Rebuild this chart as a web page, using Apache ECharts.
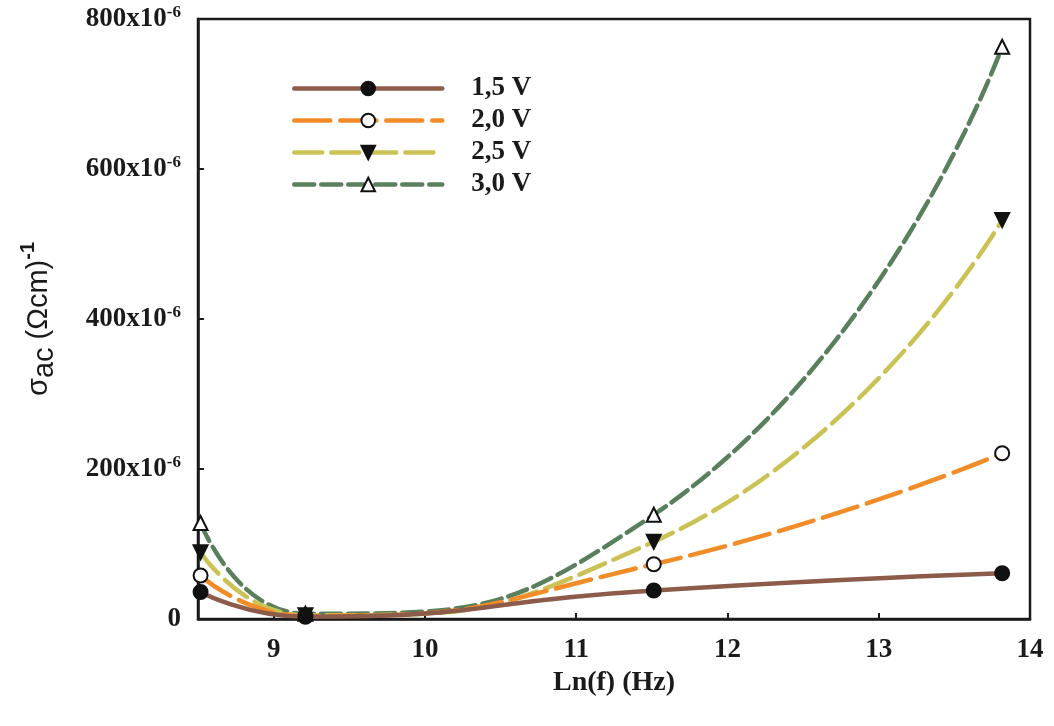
<!DOCTYPE html>
<html>
<head>
<meta charset="utf-8">
<script src="https://cdn.jsdelivr.net/npm/echarts@6/dist/echarts.min.js"></script>
<style>
html,body{margin:0;padding:0;background:#fff;}
#chart{width:1054px;height:726px;}
</style>
</head>
<body>
<div id="chart"></div>
<script>
// ln(f) values of the measured frequencies
const lnF = [8.517, 9.210, 11.513, 13.816];
// sigma_ac values in units of 1e-6 (Ωcm)^-1
const v15 = [36, 3, 38, 61];
const v20 = [58, 4, 73, 221];
const v25 = [89, 5, 103, 532];
const v30 = [128, 7, 139, 763];
const seriesNames = ['1,5 V', '2,0 V', '2,5 V', '3,0 V'];
const xTicks = [9, 10, 11, 12, 13, 14];
const yTicks = [0, 200, 400, 600, 800];

const serif = 'Liberation Serif';
const sans = 'Liberation Sans';
const ink = '#1a1a1a';

function pts(vals) { return lnF.map((x, i) => [x, vals[i]]); }

const chart = echarts.init(document.getElementById('chart'));

const styles = [
  { color: '#8c5b4a', dash: 'solid', symbol: 'circle', fill: '#111', border: '#111' },
  { color: '#f28c28', dash: [36, 10], symbol: 'circle', fill: '#fff', border: '#111' },
  { color: '#cbc255', dash: [28, 9], symbol: 'triangle', rotate: 180, fill: '#111', border: '#111' },
  { color: '#5a7f5c', dash: [20, 7], symbol: 'triangle', fill: '#fff', border: '#111' }
];
const dataSets = [v15, v20, v25, v30];

chart.setOption({
  animation: false,
  backgroundColor: '#fff',
  grid: {
    left: 198, right: 24, top: 19, bottom: 107,
    show: true, borderColor: ink, borderWidth: 2.5, backgroundColor: 'transparent'
  },
  legend: {
    orient: 'vertical',
    left: 287, top: 70,
    padding: 5,
    itemWidth: 148, itemHeight: 17, itemGap: 5,
    data: seriesNames,
    lineStyle: { width: 4.5 },
    textStyle: { fontFamily: serif, fontWeight: 'bold', fontSize: 27, lineHeight: 24, color: ink, padding: [0, 0, 0, 24] }
  },
  xAxis: {
    type: 'value', min: 8.5, max: 14, interval: 1,
    axisLine: { show: true, lineStyle: { color: ink, width: 2.5 } },
    axisTick: { show: true, inside: true, length: 6, lineStyle: { color: ink, width: 2 }, customValues: xTicks },
    splitLine: { show: false },
    axisLabel: {
      margin: 18, fontFamily: serif, fontWeight: 'bold', fontSize: 27, color: ink,
      customValues: xTicks
    },
    name: 'Ln(f) (Hz)', nameLocation: 'middle', nameGap: 50,
    nameTextStyle: { fontFamily: serif, fontWeight: 'bold', fontSize: 28, color: ink }
  },
  yAxis: {
    type: 'value', min: 0, max: 800, interval: 200,
    axisLine: { show: true, lineStyle: { color: ink, width: 2.5 } },
    axisTick: { show: true, inside: true, length: 6, lineStyle: { color: ink, width: 2 } },
    splitLine: { show: false },
    axisLabel: {
      margin: 17,
      formatter: function (v) {
        if (v === 0) return '{b|0}';
        return '{b|' + v + 'x10}{s|-6}';
      },
      rich: {
        b: { fontFamily: serif, fontWeight: 'bold', fontSize: 27, color: ink },
        s: { fontFamily: serif, fontWeight: 'bold', fontSize: 17, color: ink, verticalAlign: 'top', padding: [0, 0, 12, 0] }
      }
    },
    name: '{m|σ}{sub|ac}{m| (Ωcm)}{sup|-1}',
    nameLocation: 'middle', nameGap: 139, nameRotate: 90,
    nameTextStyle: {
      rich: {
        m: { fontFamily: sans, fontSize: 29, color: ink },
        sub: { fontFamily: sans, fontSize: 29, color: ink, padding: [12, 0, 0, 0], verticalAlign: 'bottom' },
        sup: { fontFamily: sans, fontWeight: 'bold', fontSize: 20, color: ink, padding: [0, 0, 14, 0], verticalAlign: 'top' }
      }
    }
  },
  series: dataSets.map((d, i) => ({
    name: seriesNames[i],
    type: 'line',
    data: pts(d),
    smooth: 0.55,
    symbol: styles[i].symbol,
    symbolRotate: styles[i].rotate || 0,
    symbolSize: 14,
    showAllSymbol: true,
    z: 10 - i,
    lineStyle: { color: styles[i].color, width: 4.5, type: styles[i].dash, cap: 'round' },
    itemStyle: { color: styles[i].fill, borderColor: styles[i].border, borderWidth: 2, opacity: 1 }
  }))
});
</script>
</body>
</html>
